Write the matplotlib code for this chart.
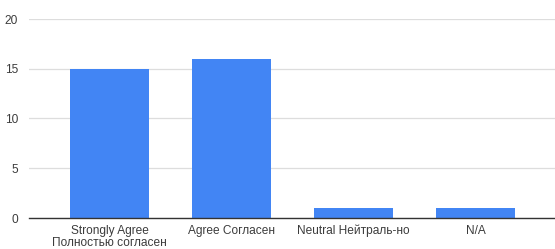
import matplotlib

matplotlib.use("Agg")
from matplotlib import pyplot as plt

categories = ["Strongly Agree\nПолностью согласен", "Agree Согласен", "Neutral Нейтраль-но", "N/A"]
counts = [15, 16, 1, 1]
y_ticks = [0, 5, 10, 15, 20]

plt.rcParams["font.family"] = ["Liberation Sans", "DejaVu Sans"]

figure = plt.figure(figsize=(5.55, 2.49), dpi=100)
axis = figure.add_axes([29 / 555, 31 / 249, 526 / 555, 199 / 249])

positions = range(len(categories))
axis.bar(positions, counts, width=0.645, color="#4285f4", zorder=3)

axis.set_xlim(-0.66, 3.65)
axis.set_ylim(0, 20)
axis.set_yticks(y_ticks)
axis.set_xticks(list(positions))
axis.set_xticklabels(categories, fontsize=8.6, color="#3c3c3c", linespacing=1.05)
axis.tick_params(axis="y", length=0, pad=8, labelsize=8.6, labelcolor="#3c3c3c")
axis.tick_params(axis="x", length=0, pad=5)

axis.grid(axis="y", color="#dddddd", linewidth=0.9, zorder=0)
for side in ("top", "right", "left"):
    axis.spines[side].set_visible(False)
axis.spines["bottom"].set_color("#333333")
axis.spines["bottom"].set_linewidth(1.0)
axis.spines["bottom"].set_zorder(4)

figure.savefig("out.png", dpi=100)
plt.close(figure)
